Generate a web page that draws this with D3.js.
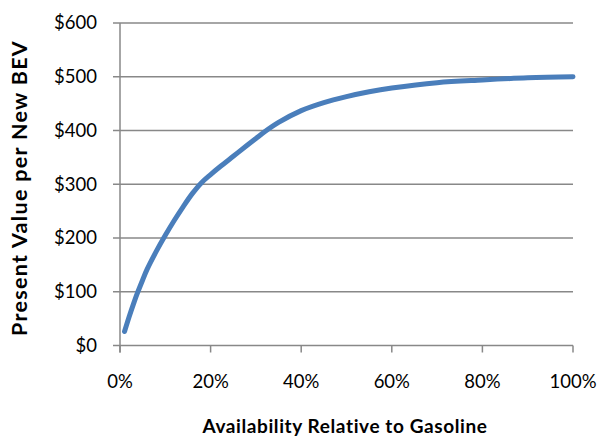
<!DOCTYPE html>
<html><head><meta charset="utf-8">
<script src="https://cdn.jsdelivr.net/npm/d3@7"></script>
<style>body{margin:0;background:#fff}</style>
</head><body>
<svg id="c" width="600" height="437"></svg>
<script>
const availability = [0.01,0.02,0.03,0.04,0.05,0.06,0.08,0.10,0.12,0.14,0.16,0.18,0.20,0.22,0.25,0.28,0.30,0.32,0.35,0.40,0.45,0.50,0.55,0.60,0.70,0.80,0.90,1.00];
const presentValue = [26,53,78,101,122,142,175,205,233,259,283,303,318,332,352,372,385,398,415,437,452,463,472,479,489,494,498,500];
const yTicks = [0,100,200,300,400,500,600];
const xTicks = [0,0.2,0.4,0.6,0.8,1.0];
const xTitle = "Availability Relative to Gasoline";
const yTitle = "Present Value per New BEV";

const svg = d3.select("#c");
const font = "Lato, 'Open Sans', sans-serif";
const L = 120, R = 573, T = 23, B = 345.5;
const x = d3.scaleLinear().domain([0,1]).range([L,R]);
const y = d3.scaleLinear().domain([0,600]).range([B,T]);
const grid = "#888888";

svg.append("g").selectAll("line").data(yTicks).join("line")
  .attr("x1", L-7).attr("x2", R).attr("y1", d=>y(d)).attr("y2", d=>y(d))
  .attr("stroke", grid).attr("stroke-width", 1.5);

svg.append("line").attr("x1",L).attr("x2",L).attr("y1",T).attr("y2",B+7)
  .attr("stroke",grid).attr("stroke-width",1.5);

svg.append("g").selectAll("line").data(xTicks).join("line")
  .attr("x1", d=>x(d)).attr("x2", d=>x(d)).attr("y1", B).attr("y2", B+7)
  .attr("stroke", grid).attr("stroke-width", 1.5);

svg.append("g").selectAll("text").data(yTicks).join("text")
  .attr("x", 97).attr("y", d=>y(d)).attr("dy","0.35em")
  .attr("text-anchor","end").attr("font-family",font).attr("font-size",18.5)
  .attr("fill","#000").text(d=>"$"+d);

svg.append("g").selectAll("text").data(xTicks).join("text")
  .attr("x", d=>x(d)).attr("y", 388)
  .attr("text-anchor","middle").attr("font-family",font).attr("font-size",18.5)
  .attr("fill","#000").text(d=>Math.round(d*100)+"%");

const line = d3.line().x((d,i)=>x(availability[i])).y(d=>y(d)).curve(d3.curveCatmullRom.alpha(0.5));
svg.append("path").datum(presentValue).attr("d", line)
  .attr("fill","none").attr("stroke","#4A7EBB").attr("stroke-width",5)
  .attr("stroke-linecap","round").attr("stroke-linejoin","round");

svg.append("text").attr("x",345).attr("y",433).attr("text-anchor","middle")
  .attr("font-family",font).attr("font-weight","bold").attr("font-size",19)
  .attr("letter-spacing",0.6).text(xTitle);
svg.append("text").attr("transform",`translate(27,188) rotate(-90)`)
  .attr("text-anchor","middle").attr("font-family",font).attr("font-weight","bold")
  .attr("font-size",21.5).attr("letter-spacing",1.3).text(yTitle);
</script>
</body></html>
